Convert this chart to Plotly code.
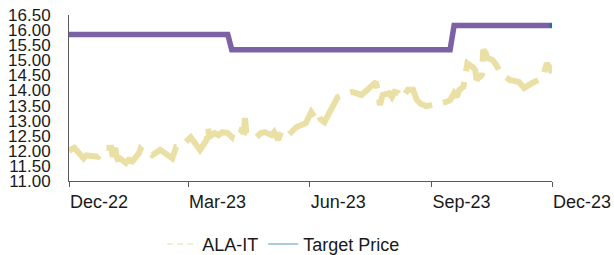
import plotly.graph_objects as go

# ALA-IT price
price_dates = [
    "2022-12-01", "2022-12-05", "2022-12-09", "2022-12-12", "2022-12-14",
    "2022-12-23", "2022-12-28", "2023-01-02", "2023-01-03", "2023-01-04", "2023-01-05",
    "2023-01-06", "2023-01-09", "2023-01-10", "2023-01-13", "2023-01-16", "2023-01-17",
    "2023-01-23", "2023-01-24", "2023-01-27", "2023-01-31", "2023-02-02", "2023-02-06",
    "2023-02-08", "2023-02-17", "2023-02-20", "2023-02-24", "2023-02-28", "2023-03-03",
    "2023-03-10", "2023-03-13", "2023-03-15", "2023-03-16", "2023-03-17", "2023-03-21",
    "2023-03-24", "2023-03-27", "2023-03-31", "2023-04-03", "2023-04-05", "2023-04-10",
    "2023-04-12", "2023-04-13", "2023-04-14", "2023-04-21", "2023-04-25", "2023-04-28",
    "2023-05-03", "2023-05-05", "2023-05-08", "2023-05-11", "2023-05-15", "2023-05-18",
    "2023-05-22", "2023-05-26", "2023-05-29", "2023-06-02", "2023-06-05", "2023-06-07",
    "2023-06-09", "2023-06-12", "2023-06-19", "2023-06-22", "2023-06-26", "2023-06-29",
    "2023-07-03", "2023-07-06", "2023-07-10", "2023-07-21", "2023-07-24", "2023-07-26",
    "2023-07-31", "2023-08-02", "2023-08-04", "2023-08-07", "2023-08-10", "2023-08-14",
    "2023-08-18", "2023-08-21", "2023-08-24", "2023-08-28", "2023-09-01", "2023-09-08",
    "2023-09-12", "2023-09-15", "2023-09-18", "2023-09-20", "2023-09-22", "2023-09-25",
    "2023-09-28", "2023-10-02", "2023-10-04", "2023-10-05", "2023-10-09", "2023-10-10",
    "2023-10-12", "2023-10-13", "2023-10-17", "2023-10-20", "2023-10-23", "2023-10-30",
    "2023-11-03", "2023-11-06", "2023-11-10", "2023-11-13", "2023-11-16", "2023-11-24",
    "2023-11-27", "2023-11-29", "2023-12-01",
]
price_values = [
    12.00, 12.10, 11.90, 11.75, 11.85,
    11.80, 12.10, 12.10, 11.80, 12.05, 12.10,
    11.80, 11.45, 11.70, 11.60, 11.75, 11.60,
    11.93, 12.06, 11.93, 11.96, 11.86, 11.96,
    12.03, 11.75, 12.13, 12.15, 12.30, 12.45,
    12.03, 12.26, 12.36, 12.79, 12.46, 12.59,
    12.52, 12.62, 12.59, 12.46, 12.75, 12.69,
    12.59, 13.09, 12.59, 12.42, 12.59, 12.62,
    12.52, 12.62, 12.36, 12.69, 12.75, 12.62,
    12.79, 12.86, 12.92, 13.29, 13.10, 13.25,
    13.05, 12.95, 13.58, 13.78, 13.85, 13.91,
    13.95, 13.91, 13.85, 14.28, 13.52, 13.85,
    13.91, 13.78, 13.95, 13.91, 13.75, 14.02,
    14.02, 13.68, 13.55, 13.48, 13.52, 13.55,
    13.62, 13.68, 13.91, 13.78, 14.02, 14.12,
    14.90, 14.78, 14.68, 14.35, 14.51, 15.34,
    15.24, 15.08, 15.01, 14.84, 14.58, 14.35,
    14.28, 14.28, 14.08, 14.18, 14.25, 14.41,
    14.90, 14.78, 14.58,
]

# Target price steps
target_dates = ["2022-12-01", "2023-03-31", "2023-04-03", "2023-09-15", "2023-09-18", "2023-12-01"]
target_values = [15.85, 15.85, 15.35, 15.35, 16.15, 16.15]

x_tick_vals = ["2022-12-01", "2023-03-01", "2023-06-01", "2023-09-01", "2023-12-01"]
x_tick_text = ["Dec-22", "Mar-23", "Jun-23", "Sep-23", "Dec-23"]
y_tick_vals = [11.0, 11.5, 12.0, 12.5, 13.0, 13.5, 14.0, 14.5, 15.0, 15.5, 16.0, 16.5]

FONT = "Liberation Sans, Arial, sans-serif"

fig = go.Figure()
fig.add_trace(go.Scatter(
    x=price_dates, y=price_values, mode="lines", name="ALA-IT", showlegend=False,
    line=dict(color="#EAE0A6", width=6, dash="38px,11px"),
))
fig.add_trace(go.Scatter(
    x=target_dates, y=target_values, mode="lines", name="Target Price", showlegend=False,
    line=dict(color="#7C62A4", width=5.5),
))
fig.add_trace(go.Scatter(
    x=target_dates[-1:], y=target_values[-1:], mode="markers", showlegend=False,
    marker=dict(color="#18789A", size=5),
))
# legend entries
fig.add_trace(go.Scatter(
    x=[None], y=[None], mode="lines", name="ALA-IT",
    line=dict(color="#F3EED3", width=2, dash="6px,4px"),
))
fig.add_trace(go.Scatter(
    x=[None], y=[None], mode="lines", name="Target Price",
    line=dict(color="#A9CEDB", width=2),
))

fig.update_layout(
    width=614, height=255,
    autosize=False,
    margin=dict(l=69, r=62, t=15, b=74, autoexpand=False),
    paper_bgcolor="white", plot_bgcolor="white",
    font=dict(family=FONT, size=17, color="#1a1a1a"),
    showlegend=True,
    legend=dict(
        orientation="h", xref="container", yref="container",
        x=0.462, xanchor="center", y=0.115, yanchor="top",
        font=dict(family=FONT, size=18, color="#1a1a1a"),
        itemwidth=30, bgcolor="rgba(0,0,0,0)",
    ),
)
fig.update_xaxes(
    type="date", range=["2022-12-01", "2023-12-01"], automargin=False,
    tickvals=x_tick_vals, ticktext=x_tick_text,
    ticks="outside", ticklen=5, tickcolor="#595959", tickwidth=1,
    ticklabelposition="outside right", ticklabelstandoff=4,
    showline=True, linecolor="#595959", linewidth=1,
    showgrid=False, zeroline=False,
    tickfont=dict(family=FONT, size=18, color="#1a1a1a"),
)
fig.update_yaxes(
    range=[11.0, 16.5], tickvals=y_tick_vals, tickformat=".2f", automargin=False,
    showline=True, linecolor="#595959", linewidth=1,
    ticks="", ticklabelstandoff=14,
    showgrid=False, zeroline=False,
    tickfont=dict(family=FONT, size=17, color="#1a1a1a"),
)

fig.write_html(
    "out.html",
    config={"displayModeBar": False},
    post_script="document.body.style.margin='0';document.body.style.overflow='hidden';",
)
